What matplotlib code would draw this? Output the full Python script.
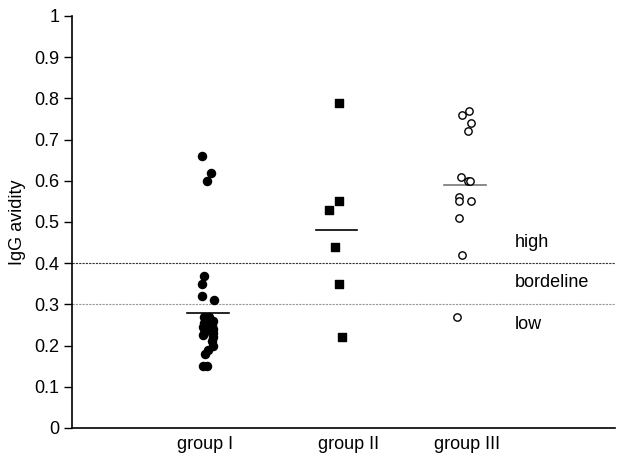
import matplotlib
matplotlib.use('Agg')
import matplotlib.pyplot as plt
from matplotlib.ticker import FuncFormatter

plt.rcParams['font.family'] = ['Liberation Sans', 'DejaVu Sans']

# IgG avidity values
group1 = [0.66, 0.62, 0.60, 0.37, 0.35, 0.32, 0.31,
          0.27, 0.27, 0.26, 0.255, 0.25, 0.245, 0.24, 0.24, 0.235, 0.23,
          0.23, 0.225, 0.22, 0.21, 0.20, 0.19, 0.18, 0.15, 0.15]
group2 = [0.79, 0.55, 0.53, 0.44, 0.35, 0.22]
group3 = [0.77, 0.76, 0.74, 0.72, 0.61, 0.60, 0.60, 0.56, 0.55, 0.55,
          0.51, 0.42, 0.27]

# horizontal jitter (in group units) as seen in the figure
jitter1 = [-0.05, 0.02, -0.01, -0.03, -0.05, -0.05, 0.05,
           0.01, -0.03, 0.04, -0.03, 0.03, -0.04, 0.04, -0.02, 0.03, -0.03,
           0.04, -0.04, 0.04, 0.03, 0.04, 0.0, -0.02, -0.04, -0.01]
jitter2 = [0.02, 0.02, -0.06, -0.01, 0.02, 0.04]
jitter3 = [0.03, -0.02, 0.05, 0.02, -0.03, 0.02, 0.04, -0.05, -0.05, 0.05,
           -0.05, -0.02, -0.06]

centre_lines = [0.28, 0.48, 0.59]
group_labels = ['group I', 'group II', 'group III']
label_pos = [0.977, 2.097, 3.016]
cutoffs = [0.4, 0.3]
zone_labels = ['high', 'bordeline', 'low']
zone_y = [0.45, 0.352, 0.252]

fig = plt.figure(figsize=(6.19, 4.54), dpi=100)
ax = fig.add_axes([0.1163, 0.0573, 0.8772, 0.9075])

ax.axhline(cutoffs[0], color='#333333', lw=0.8, ls=(0, (2, 1)), zorder=1)
ax.axhline(cutoffs[1], color='#999999', lw=0.8, ls=(0, (2, 1)), zorder=1)

ax.scatter([1 + j for j in jitter1], group1, s=34, c='black', marker='o', zorder=3)
ax.scatter([2 + j for j in jitter2], group2, s=30, c='black', marker='s', zorder=3)
ax.scatter([3 + j for j in jitter3], group3, s=28, facecolors='white',
           edgecolors='black', linewidths=1.0, marker='o', zorder=3)

line_cols = ['black', 'black', '#777777']
for i, (m, c) in enumerate(zip(centre_lines, line_cols)):
    ax.plot([i + 1 - 0.16, i + 1 + 0.16], [m, m], color=c, lw=1.2, zorder=2)

for t, y in zip(zone_labels, zone_y):
    ax.text(3.39, y, t, fontsize=13, va='center', ha='left')

ax.set_xlim(-0.058, 4.167)
ax.set_ylim(0, 1)
ax.set_yticks([i / 10 for i in range(11)])
ax.yaxis.set_major_formatter(FuncFormatter(lambda v, p: '%g' % round(v, 1)))
ax.set_xticks(label_pos)
ax.set_xticklabels(group_labels)
ax.tick_params(axis='x', length=0, labelsize=13, pad=6)
ax.tick_params(axis='y', length=6, width=1, labelsize=13, pad=3)
ax.set_ylabel('IgG avidity', fontsize=13, labelpad=6)

for s in ['top', 'right']:
    ax.spines[s].set_visible(False)
for s in ['left', 'bottom']:
    ax.spines[s].set_linewidth(1.2)

fig.savefig('out.png', dpi=100)
